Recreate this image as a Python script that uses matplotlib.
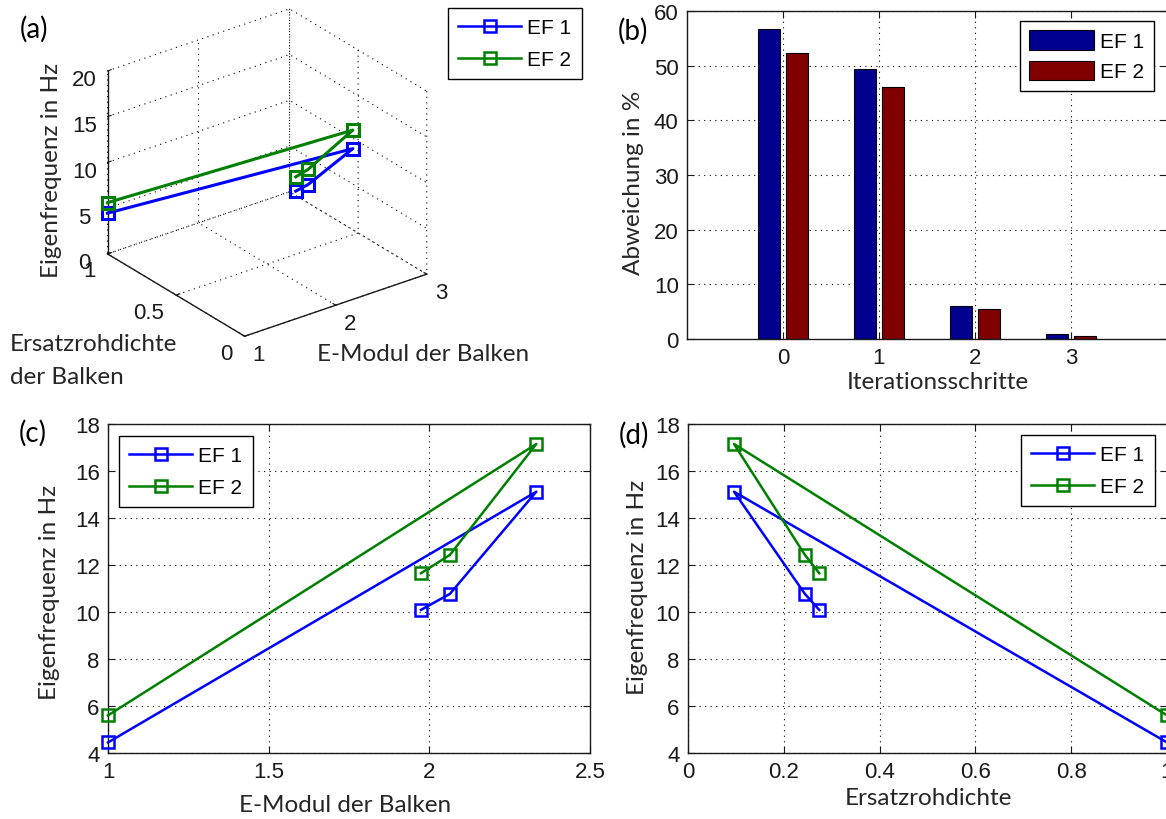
import matplotlib
matplotlib.use('Agg')
import matplotlib.pyplot as plt
import numpy as np
from mpl_toolkits.mplot3d import proj3d
from matplotlib.lines import Line2D

# ---------------- data ----------------
iterations = [0, 1, 2, 3]
e_modul = [1.0, 2.333, 2.064, 1.974]
rohdichte = [1.0, 0.096, 0.244, 0.274]
ef1_hz = [4.45, 15.12, 10.77, 10.09]
ef2_hz = [5.6, 17.15, 12.43, 11.65]
abw_ef1 = [56.7, 49.4, 6.1, 0.9]
abw_ef2 = [52.3, 46.1, 5.5, 0.55]
series_labels = ['EF 1', 'EF 2']
e_ticks = [1, 2, 3]
e_ticklabels = ['1', '2', '3']
rho_ticks = [0, 0.5, 1]
rho_ticklabels = ['0', '0.5', '1']
hz3d_ticks = [0, 5, 10, 15, 20]

# ---------------- style ----------------
W, H = 1166, 820
TICK_FONT = ['Liberation Sans', 'DejaVu Sans']
LABEL_FONT = ['Lato', 'DejaVu Sans']
TICK_SIZE = 16
LEG_SIZE = 15
LABEL_SIZE = 17.5
PANEL_SIZE = 20
LINE_C = ['#0000ff', '#008000']
BAR_C = ['#00008f', '#800000']
GRID_LS = (0, (1, 4))
TXT_C = '#262626'
AX_C = '#1a1a1a'

plt.rcParams['font.family'] = TICK_FONT
plt.rcParams['font.size'] = TICK_SIZE

fig = plt.figure(figsize=(W / 100, H / 100), dpi=100)


def rect(l, t, r, b):
    return [l / W, 1 - b / H, (r - l) / W, (b - t) / H]


def ftext(x, y, s, **kw):
    kw.setdefault('ha', 'center')
    kw.setdefault('va', 'center')
    fig.text(x / W, 1 - y / H, s, **kw)


def style2d(ax):
    ax.tick_params(direction='in', top=True, right=True, length=5, width=0.8,
                   colors=AX_C, labelsize=TICK_SIZE, pad=6)
    for sp in ax.spines.values():
        sp.set_color(AX_C)
        sp.set_linewidth(1)
    ax.grid(True, linestyle=GRID_LS, color='k', linewidth=0.8)
    ax.set_axisbelow(True)


def leg_kw():
    return dict(frameon=True, fancybox=False, framealpha=1, edgecolor='k',
                prop={'family': TICK_FONT, 'size': LEG_SIZE},
                handlelength=3.0, handletextpad=0.3, labelspacing=0.6,
                borderpad=0.5, borderaxespad=0, bbox_transform=fig.transFigure,
                loc='upper left')


line_handles = [Line2D([], [], color=c, lw=1.8, marker='s', ms=8, mfc='none', mew=1.8)
                for c in LINE_C]

# ---------------- (a) 3D ----------------
ax3 = fig.add_axes([0.0, 0.5, 0.45, 0.45], projection='3d', proj_type='ortho')
ax3.view_init(elev=26.9, azim=-127)
ax3.set_box_aspect((1, 1, 0.9))
for ys, c in zip([ef1_hz, ef2_hz], LINE_C):
    ax3.plot(e_modul, rohdichte, ys, color=c, lw=2.2, marker='s', ms=9, mfc='none', mew=2.2)
ax3.set_xlim(1, 3)
ax3.set_ylim(0, 1)
ax3.set_zlim(0, 20)
ax3.set_xticks(e_ticks)
ax3.set_xticklabels([])
ax3.set_yticks(rho_ticks)
ax3.set_yticklabels([])
ax3.set_zticks(hz3d_ticks)
ax3.set_zticklabels([str(v) for v in hz3d_ticks])
for axis in (ax3.xaxis, ax3.yaxis, ax3.zaxis):
    axis.set_pane_color((1, 1, 1, 0))
    axis.pane.set_edgecolor((1, 1, 1, 0))
    axis._axinfo['grid'].update(color='k', linewidth=0.8, linestyle=GRID_LS)
    axis.line.set_color(AX_C)
    axis.line.set_linewidth(1)
    axis._axinfo['tick']['inward_factor'] = 0.0
    axis._axinfo['tick']['outward_factor'] = 0.25
ax3.tick_params(labelsize=TICK_SIZE, colors=AX_C)
ax3.tick_params(axis='z', pad=2)

fig.canvas.draw()
M = ax3.get_proj()


def axfrac(pt):
    xs, ys, _ = proj3d.proj_transform(pt[0], pt[1], pt[2], M)
    disp = ax3.transData.transform((xs, ys))
    return ax3.transAxes.inverted().transform(disp)


corners = [(1, 0, 0), (3, 0, 0), (1, 1, 0), (1, 1, 20), (3, 1, 20)]
targets = [(245, 338), (427, 274), (108, 255), (107, 72), (289, 10)]
A, b = [], []
for pt, (tx, ty) in zip(corners, targets):
    u, v = axfrac(pt)
    A.append([1, 0, u]); b.append(tx)
    A.append([0, 1, v]); b.append(H - ty)
x0, y0, S = np.linalg.lstsq(np.array(A), np.array(b), rcond=None)[0]
ax3.set_position([x0 / W, y0 / H, S / W, S / H])


def to_px(pt):
    u, v = axfrac(pt)
    return x0 + S * u, H - (y0 + S * v)


# 3D tick labels placed like MATLAB does
for val, lab in zip(rho_ticks, rho_ticklabels):
    px, py = to_px((1, val, 0))
    ftext(px - 12, py + 17, lab, ha='right', size=TICK_SIZE, color=AX_C)
for val, lab in zip(e_ticks, e_ticklabels):
    px, py = to_px((val, 0, 0))
    ftext(px + 8, py + 18, lab, ha='left', size=TICK_SIZE, color=AX_C)

fig.legend(line_handles, series_labels, bbox_to_anchor=(448 / W, 1 - 9 / H), **leg_kw())
ftext(34, 29, '(a)', family=LABEL_FONT, size=PANEL_SIZE, color='k')
ftext(52, 170, 'Eigenfrequenz in Hz', family=LABEL_FONT, size=LABEL_SIZE, color=TXT_C, rotation=90)
ftext(10, 345, 'Ersatzrohdichte', family=LABEL_FONT, size=LABEL_SIZE, color=TXT_C, ha='left')
ftext(10, 378, 'der Balken', family=LABEL_FONT, size=LABEL_SIZE, color=TXT_C, ha='left')
ftext(423, 355, 'E-Modul der Balken', family=LABEL_FONT, size=LABEL_SIZE, color=TXT_C)

# ---------------- (b) bars ----------------
axb = fig.add_axes(rect(687, 12, 1167, 340))
x = np.array(iterations, dtype=float)
bw = 0.23
off = 0.146
axb.bar(x - off, abw_ef1, bw, color=BAR_C[0], edgecolor='k', linewidth=0.8, label=series_labels[0])
axb.bar(x + off, abw_ef2, bw, color=BAR_C[1], edgecolor='k', linewidth=0.8, label=series_labels[1])
axb.set_xlim(-1, 4)
axb.set_ylim(0, 60)
axb.set_xticks(iterations)
axb.set_yticks(range(0, 61, 10))
style2d(axb)
kw = leg_kw()
kw.update(handlelength=3.1, handleheight=1.05, labelspacing=0.45, borderpad=0.45)
axb.legend(bbox_to_anchor=(1020 / W, 1 - 22 / H), **kw)
ftext(633, 31, '(b)', family=LABEL_FONT, size=PANEL_SIZE, color='k')
ftext(633, 183, 'Abweichung in %', family=LABEL_FONT, size=LABEL_SIZE, color=TXT_C, rotation=90)
ftext(938, 383, 'Iterationsschritte', family=LABEL_FONT, size=LABEL_SIZE, color=TXT_C)

# ---------------- (c) vs E-Modul ----------------
axc = fig.add_axes(rect(108, 425, 590, 754))
for ys, c, lab in zip([ef1_hz, ef2_hz], LINE_C, series_labels):
    axc.plot(e_modul, ys, color=c, lw=1.8, marker='s', ms=8, mfc='none', mew=1.8,
             label=lab, clip_on=False, zorder=3)
axc.set_xlim(1, 2.5)
axc.set_ylim(4, 18)
axc.set_xticks([1, 1.5, 2, 2.5])
axc.set_xticklabels(['1', '1.5', '2', '2.5'])
axc.set_yticks(range(4, 19, 2))
style2d(axc)
axc.legend(bbox_to_anchor=(119 / W, 1 - 437 / H), **leg_kw())
ftext(33, 433, '(c)', family=LABEL_FONT, size=PANEL_SIZE, color='k')
ftext(50, 592, 'Eigenfrequenz in Hz', family=LABEL_FONT, size=LABEL_SIZE, color=TXT_C, rotation=90)
ftext(345, 806, 'E-Modul der Balken', family=LABEL_FONT, size=LABEL_SIZE, color=TXT_C)

# ---------------- (d) vs Ersatzrohdichte ----------------
axd = fig.add_axes(rect(688, 425, 1167, 754))
for ys, c, lab in zip([ef1_hz, ef2_hz], LINE_C, series_labels):
    axd.plot(rohdichte, ys, color=c, lw=1.8, marker='s', ms=8, mfc='none', mew=1.8,
             label=lab, clip_on=False, zorder=3)
axd.set_xlim(0, 1)
axd.set_ylim(4, 18)
axd.set_xticks([0, 0.2, 0.4, 0.6, 0.8, 1])
axd.set_xticklabels(['0', '0.2', '0.4', '0.6', '0.8', '1'])
axd.set_yticks(range(4, 19, 2))
style2d(axd)
axd.legend(bbox_to_anchor=(1021 / W, 1 - 436 / H), **leg_kw())
ftext(634, 435, '(d)', family=LABEL_FONT, size=PANEL_SIZE, color='k')
ftext(637, 587, 'Eigenfrequenz in Hz', family=LABEL_FONT, size=LABEL_SIZE, color=TXT_C, rotation=90)
ftext(928, 799, 'Ersatzrohdichte', family=LABEL_FONT, size=LABEL_SIZE, color=TXT_C)

fig.savefig('out.png', dpi=100)
